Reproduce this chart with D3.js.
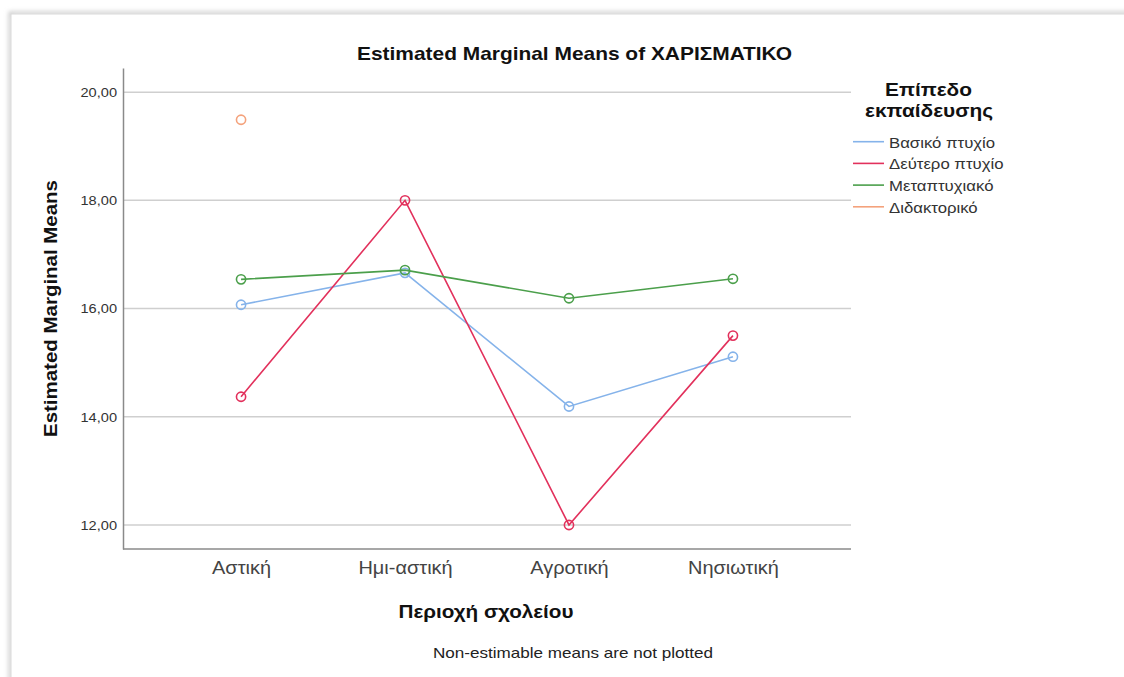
<!DOCTYPE html>
<html><head><meta charset="utf-8">
<script src="https://cdn.jsdelivr.net/npm/d3@7"></script>
<style>
body{margin:0;background:#fff;overflow:hidden;}
text{font-family:"Liberation Sans",Arial,sans-serif;}
</style>
</head><body>
<svg id="chart" width="1124" height="677"></svg>
<script>
// ---- data ----
const categories = ["Αστική", "Ημι-αστική", "Αγροτική", "Νησιωτική"];
const seriesNames = ["Βασικό πτυχίο", "Δεύτερο πτυχίο", "Μεταπτυχιακό", "Διδακτορικό"];
const basicDegree = [16.07, 16.66, 14.19, 15.11];
const secondDegree = [14.37, 18.00, 12.00, 15.50];
const masters = [16.54, 16.71, 16.19, 16.55];
const doctorate = [19.49, null, null, null];
const yTicks = [12, 14, 16, 18, 20];
const seriesColors = ["#85b3ea", "#e2315c", "#4b9f4b", "#f4a27c"];

const seriesValues = [basicDegree, secondDegree, masters, doctorate];
const series = seriesNames.map((name, i) => ({
  name, color: seriesColors[i],
  points: categories.map((c, j) => ({cat: c, v: seriesValues[i][j]})).filter(p => p.v != null)
}));

const svg = d3.select("#chart");

// horizontal stretch helper (the reference glyphs are slightly wider)
function stretch(sel, k) {
  sel.each(function() {
    const w = this.getComputedTextLength();
    d3.select(this).attr("textLength", w * k).attr("lengthAdjust", "spacingAndGlyphs");
  });
}

// frame (screenshot border)
const defs = svg.append("defs");
const f = defs.append("filter").attr("id","sh").attr("x","-5%").attr("y","-5%").attr("width","110%").attr("height","110%");
f.append("feGaussianBlur").attr("stdDeviation", 2);
svg.append("rect").attr("x", 10).attr("y", 13).attr("width", 1130).attr("height", 700)
  .attr("fill", "none").attr("stroke", "#c8c8c8").attr("stroke-width", 3).attr("filter","url(#sh)");
svg.append("rect").attr("x", 11).attr("y", 14).attr("width", 1130).attr("height", 700)
  .attr("fill", "#fff").attr("stroke", "#d9d9d9").attr("stroke-width", 1);

const pLeft = 123, pRight = 851, pTop = 68, pBottom = 549;

const x = d3.scalePoint().domain(categories).range([pLeft, pRight]).padding(0.72);
const y = d3.scaleLinear().domain([11.556, 20.446]).range([pBottom, pTop]);

// gridlines
svg.append("g").selectAll("line").data(yTicks).join("line")
  .attr("x1", pLeft).attr("x2", pRight)
  .attr("y1", d => y(d)).attr("y2", d => y(d))
  .attr("stroke", "#cfcfcf").attr("stroke-width", 1.5);

// y axis
const yAxis = svg.append("g").attr("transform", `translate(${pLeft},0)`)
  .call(d3.axisLeft(y).tickValues(yTicks).tickSize(0).tickPadding(6)
    .tickFormat(d => d3.format(".2f")(d).replace(".", ",")));
yAxis.select(".domain").attr("stroke", "#8a8a8a").attr("stroke-width", 1.5);
yAxis.selectAll("text").attr("font-size", 13.5).attr("fill", "#333")
  .style("font-family", '"Liberation Sans",Arial,sans-serif');
stretch(yAxis.selectAll("text"), 1.08);

// x axis
const xAxis = svg.append("g").attr("transform", `translate(0,${pBottom})`)
  .call(d3.axisBottom(x).tickSize(0).tickPadding(13));
xAxis.select(".domain").attr("stroke", "#8a8a8a").attr("stroke-width", 1.5)
  .attr("d", `M${pLeft},0H${pRight}`);
xAxis.selectAll("text").attr("font-size", 17.5).attr("fill", "#444")
  .style("font-family", '"Liberation Sans",Arial,sans-serif');
stretch(xAxis.selectAll("text"), 1.14);

// lines
const line = d3.line().x(d => x(d.cat)).y(d => y(d.v));
const g = svg.append("g");
series.forEach(s => {
  if (s.points.length > 1) {
    g.append("path").datum(s.points).attr("d", line)
      .attr("fill", "none").attr("stroke", s.color).attr("stroke-width", 1.6);
  }
  g.selectAll(null).data(s.points).join("circle")
    .attr("cx", d => x(d.cat)).attr("cy", d => y(d.v)).attr("r", 4.6)
    .attr("fill", "none").attr("stroke", s.color).attr("stroke-width", 1.6);
});

// title
svg.append("text").attr("x", 574.5).attr("y", 59.5).attr("text-anchor", "middle")
  .attr("font-size", 19).attr("font-weight", "bold").attr("fill", "#111")
  .attr("textLength", 435).attr("lengthAdjust", "spacingAndGlyphs")
  .text("Estimated Marginal Means of ΧΑΡΙΣΜΑΤΙΚΟ");

// y title
svg.append("text").attr("transform", "translate(57,308.5) rotate(-90)").attr("text-anchor", "middle")
  .attr("font-size", 18.5).attr("font-weight", "bold").attr("fill", "#111")
  .attr("textLength", 257).attr("lengthAdjust", "spacingAndGlyphs")
  .text("Estimated Marginal Means");

// x title
svg.append("text").attr("x", 486).attr("y", 618).attr("text-anchor", "middle")
  .attr("font-size", 18.5).attr("font-weight", "bold").attr("fill", "#111")
  .attr("textLength", 175).attr("lengthAdjust", "spacingAndGlyphs")
  .text("Περιοχή σχολείου");

// footnote
svg.append("text").attr("x", 573).attr("y", 658).attr("text-anchor", "middle")
  .attr("font-size", 15).attr("fill", "#222")
  .attr("textLength", 280).attr("lengthAdjust", "spacingAndGlyphs")
  .text("Non-estimable means are not plotted");

// legend
const lg = svg.append("g");
lg.append("text").attr("x", 928.5).attr("y", 96).attr("text-anchor", "middle")
  .attr("font-size", 18).attr("font-weight", "bold").attr("fill", "#111")
  .attr("textLength", 87).attr("lengthAdjust", "spacingAndGlyphs")
  .text("Επίπεδο");
lg.append("text").attr("x", 929).attr("y", 116.5).attr("text-anchor", "middle")
  .attr("font-size", 18).attr("font-weight", "bold").attr("fill", "#111")
  .attr("textLength", 128).attr("lengthAdjust", "spacingAndGlyphs")
  .text("εκπαίδευσης");
const items = lg.selectAll("g.item").data(series).join("g").attr("class","item")
  .attr("transform", (d, i) => `translate(0,${141.7 + i * 21.7})`);
items.append("line").attr("x1", 853).attr("x2", 884).attr("y1", 0).attr("y2", 0)
  .attr("stroke", d => d.color).attr("stroke-width", 1.6);
const itemTexts = items.append("text").attr("x", 889).attr("y", 6).attr("font-size", 15.5).attr("fill", "#333")
  .text(d => d.name);
stretch(itemTexts, 1.08);
</script>
</body></html>
